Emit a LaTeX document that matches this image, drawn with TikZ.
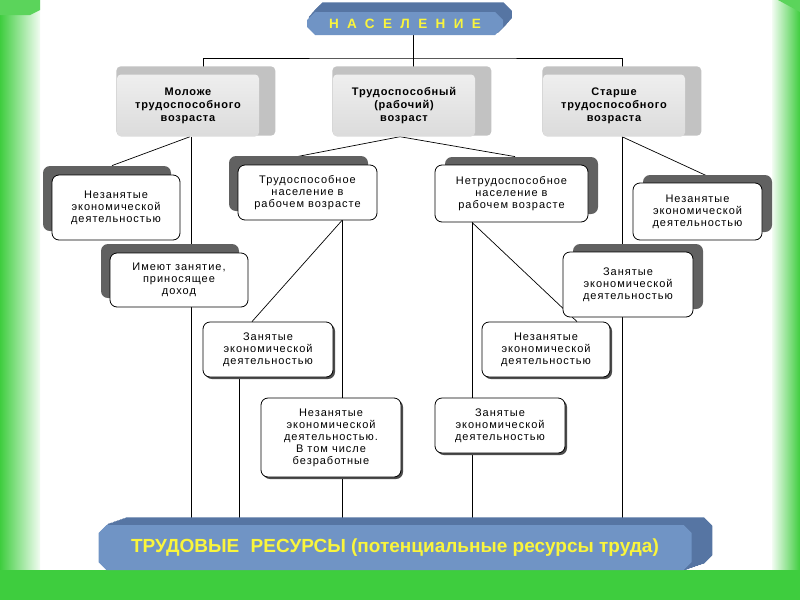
\documentclass[tikz,border=0pt]{standalone}
\usepackage{fontspec}
\setmainfont{Liberation Sans}
\usetikzlibrary{shapes.misc,shadows,backgrounds}
\definecolor{frameGreen}{RGB}{62,205,62}
\definecolor{paleGreen}{RGB}{242,252,242}
\definecolor{steel}{RGB}{112,148,197}
\definecolor{steelDark}{RGB}{86,117,163}
\definecolor{sign}{RGB}{250,245,60}
\tikzset{
  link/.style={line width=0.7pt},
  slab/.style={chamfered rectangle, chamfered rectangle xsep=4pt, chamfered rectangle ysep=4pt, fill=steel, inner sep=0pt, text=sign},
  extrude/.style 2 args={general shadow={shadow xshift=#1, shadow yshift=#2, fill=steelDark, draw=steelDark, line width=1.5pt, line join=round}},
  agebox/.style={rectangle, rounded corners=4pt, top color=gray!13, bottom color=gray!28, inner sep=2pt, align=center,
    minimum width=142pt, minimum height=62pt, font=\bfseries\fontsize{11}{13}\selectfont\addfontfeatures{LetterSpace=7},
    general shadow={shadow xshift=7pt, shadow yshift=4pt, shadow scale=1.12, fill=gray!48}},
  wbox/.style={draw, line width=0.8pt, fill=white, rounded corners=7pt, inner sep=2pt, align=center,
    font=\fontsize{11}{12}\selectfont\addfontfeatures{LetterSpace=9}},
  shUL/.style={general shadow={shadow xshift=-9pt, shadow yshift=9pt, fill=black!62}},
  shUR/.style={general shadow={shadow xshift=10pt, shadow yshift=8pt, fill=black!62}},
  shDR/.style={general shadow={shadow xshift=2pt, shadow yshift=-2pt, fill=black!70}},
}
\begin{document}
\begin{tikzpicture}[x=1pt, y=-1pt]
\useasboundingbox (0,0) rectangle (800,600);
\begin{scope}[on background layer]
\fill[white] (40,0) rectangle (772,570);
\shade[left color=frameGreen, right color=paleGreen] (0,0) rectangle (40,570);
\shade[left color=paleGreen, right color=frameGreen] (772,0) rectangle (800,570);
\fill[frameGreen] (0,570) rectangle (800,600);
\fill[frameGreen!85] (0,0) -- (40,0) -- (40,10) -- (30,15) -- (0,15) -- cycle;
\fill[frameGreen!85] (778,0) -- (800,0) -- (800,12) -- cycle;
\end{scope}
\node[slab, extrude={8pt}{9pt}, extrude={5.3pt}{6pt}, extrude={2.7pt}{3pt}, minimum width=196pt, minimum height=23pt,
  font=\bfseries\fontsize{13.5}{13.5}\selectfont\addfontfeatures{LetterSpace=62}] (nas) at (405,23.5) {НАСЕЛЕНИЕ};
\node[agebox] (young) at (188,105.5) {Моложе\\трудоспособного\\возраста};
\node[agebox] (able) at (404,105.5) {Трудоспособный\\(рабочий)\\возраст};
\node[agebox] (old) at (614,105.5) {Старше\\трудоспособного\\возраста};
\node[wbox, shUL, minimum width=128pt, minimum height=65pt] (idleY) at (116,207.5) {Незанятые\\экономической\\деятельностью};
\node[wbox, shUL, minimum width=138pt, minimum height=54pt] (earn) at (179,280) {Имеют занятие,\\приносящее\\доход};
\node[wbox, shUL, minimum width=139pt, minimum height=55pt] (ableP) at (307.5,192.5) {Трудоспособное\\население в\\рабочем возрасте};
\node[wbox, shUR, minimum width=153pt, minimum height=57pt] (unableP) at (511.5,193.5) {Нетрудоспособное\\население в\\рабочем возрасте};
\node[wbox, shUR, minimum width=129pt, minimum height=57pt] (idleO) at (697.5,211.5) {Незанятые\\экономической\\деятельностью};
\node[wbox, shUR, minimum width=130pt, minimum height=65pt] (busyO) at (628,284.5) {Занятые\\экономической\\деятельностью};
\node[wbox, shDR, minimum width=130pt, minimum height=55pt] (busyA) at (268,349.5) {Занятые\\экономической\\деятельностью};
\node[wbox, shDR, minimum width=128pt, minimum height=55pt] (idleU) at (546,349.5) {Незанятые\\экономической\\деятельностью};
\node[wbox, shDR, minimum width=140pt, minimum height=79pt] (idleA) at (331,437.5) {Незанятые\\экономической\\деятельностью.\\В том числе\\безработные};
\node[wbox, shDR, minimum width=130pt, minimum height=55pt] (busyU) at (500,425.5) {Занятые\\экономической\\деятельностью};
\node[slab, extrude={20pt}{7pt}, extrude={17pt}{6pt}, extrude={14pt}{4.9pt}, extrude={11pt}{3.85pt}, extrude={8pt}{2.8pt}, extrude={5pt}{1.75pt}, extrude={2.5pt}{0.9pt},
  minimum width=593pt, minimum height=45pt, font=\bfseries\fontsize{19}{21}\selectfont] (res) at (395,547.5)
  {ТРУДОВЫЕ\hspace{0.6em}РЕСУРСЫ (потенциальные ресурсы труда)};
\coordinate (hub) at (413,58);
\coordinate (yDrop) at ([xshift=3pt]young.south);
\coordinate (aDrop) at ([xshift=34.5pt]ableP.south);
\coordinate (bDrop) at ([xshift=-29pt]busyA.south);
\coordinate (uDrop) at ([xshift=-39.5pt]unableP.south);
\coordinate (oDrop) at ([xshift=8pt]old.south);
\begin{scope}[on background layer]
\draw[link] ([xshift=8pt]nas.south) -- ([xshift=9pt]able.north);
\draw[link] ([xshift=15pt]young.north) |- (hub) -| ([xshift=8pt]old.north);
\draw[link] ([xshift=2pt]young.south) -- ([shift={(-4pt,9pt)}]idleY.north);
\draw[link] (yDrop) -- (yDrop |- res.north);
\draw[link] ([xshift=-4pt]able.south) -- ([shift={(-10.5pt,8pt)}]ableP.north);
\draw[link] ([xshift=-4pt]able.south) -- ([shift={(3.5pt,8pt)}]unableP.north);
\draw[link] (oDrop) -- ([shift={(17.5pt,3pt)}]idleO.north);
\draw[link] (oDrop) -- (oDrop |- res.north);
\draw[link] (aDrop) -- ([xshift=-16pt]busyA.north);
\draw[link] (aDrop) -- (aDrop |- res.north);
\draw[link] (bDrop) -- (bDrop |- res.north);
\draw[link] (uDrop) -- ([xshift=31pt]idleU.north);
\draw[link] (uDrop) -- (uDrop |- res.north);
\end{scope}
\end{tikzpicture}
\end{document}
